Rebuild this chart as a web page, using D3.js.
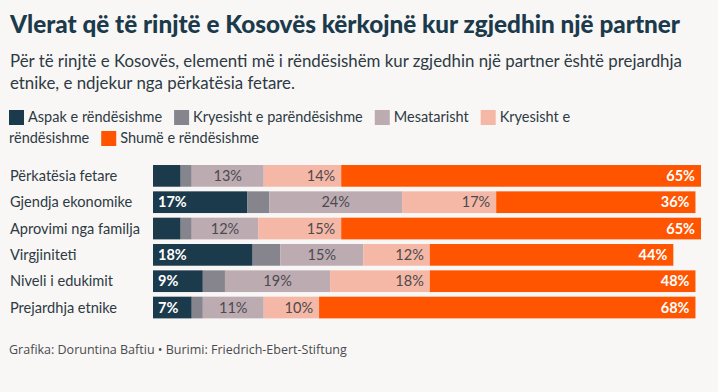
<!DOCTYPE html>
<html><head><meta charset="utf-8">
<script src="https://cdn.jsdelivr.net/npm/d3@7"></script>
<style>html,body{margin:0;padding:0;background:#f8f7f5}svg{display:block}</style>
</head><body><svg id="c" width="718" height="392"></svg>
<script>
const categories = ["Përkatësia fetare","Gjendja ekonomike","Aprovimi nga familja","Virgjiniteti","Niveli i edukimit","Prejardhja etnike"];
const seriesNames = ["Aspak e rëndësishme","Kryesisht e parëndësishme","Mesatarisht","Kryesisht e rëndësishme","Shumë e rëndësishme"];
const aspak = [5,17,5,18,9,7];
const parendesishme = [2,4,2,5,4,2];
const mesatarisht = [13,24,12,15,19,11];
const kryesisht = [14,17,15,12,18,10];
const shume = [65,36,65,44,48,68];
const titleText = "Vlerat që të rinjtë e Kosovës kërkojnë kur zgjedhin një partner";
const subtitleLines = ["Për të rinjtë e Kosovës, elementi më i rëndësishëm kur zgjedhin një partner është prejardhja","etnike, e ndjekur nga përkatësia fetare."];
const footerText = "Grafika: Doruntina Baftiu • Burimi: Friedrich-Ebert-Stiftung";

const colors = ["#1b3a4b","#86858d","#bdabb2","#f5b7a6","#ff5500"];
const FONT = "Lato, 'Noto Sans', sans-serif";
const svg = d3.select("#c");
svg.append("rect").attr("width",718).attr("height",392).attr("fill","#f8f7f5");

function fit(sel, target){
  const w = sel.node().getComputedTextLength();
  const fs = parseFloat(sel.attr("font-size"));
  sel.attr("font-size", (fs*target/w).toFixed(2));
}

// title
const t = svg.append("text").attr("x",10).attr("y",33).attr("font-family",FONT).attr("font-weight",900)
  .attr("font-size",22).attr("fill","#1b3a4b").text(titleText);
fit(t, 670);
const subSizes = [];
subtitleLines.forEach((l,i)=>{
  const s = svg.append("text").attr("x",10).attr("y",66.5+i*22.5).attr("font-family",FONT)
    .attr("font-size",17).attr("fill","#2e3a44").text(l);
  if(i===0){ fit(s,672); subSizes.push(+s.attr("font-size")); }
  else s.attr("font-size", subSizes[0]);
});

// legend (word flow)
const legG = svg.append("g");
const legFS = 14.5;
const meas = legG.append("text").attr("font-family",FONT).attr("font-size",legFS);
function tw(s){ meas.text(s); return meas.node().getComputedTextLength(); }
let lx = 9, ly = 121.5; const maxX = 610, lineH = 21;
seriesNames.forEach((name,i)=>{
  const words = name.split(" ");
  if(lx + 19 + tw(words[0]) > maxX){ lx = 9; ly += lineH; }
  legG.append("rect").attr("x",lx).attr("y",ly-11.5).attr("width",15).attr("height",15).attr("fill",colors[i]);
  lx += 19;
  let line = words[0];
  let startX = lx;
  for(let k=1;k<words.length;k++){
    const cand = line + " " + words[k];
    if(startX + tw(cand) > maxX){
      legG.append("text").attr("x",startX).attr("y",ly).attr("font-family",FONT).attr("font-size",legFS).attr("fill","#2e3a44").text(line);
      ly += lineH; startX = 9; line = words[k];
    } else line = cand;
  }
  legG.append("text").attr("x",startX).attr("y",ly).attr("font-family",FONT).attr("font-size",legFS).attr("fill","#2e3a44").text(line);
  lx = startX + tw(line) + 12;
});
meas.remove();

// chart
const rows = categories.map((c,i)=>({cat:c, v:[aspak[i],parendesishme[i],mesatarisht[i],kryesisht[i],shume[i]]}));
const maxTotal = d3.max(rows, r=>d3.sum(r.v));
const x = d3.scaleLinear().domain([0,maxTotal]).range([153,701]);
const y = d3.scaleBand().domain(categories).range([162.7,320.7]).paddingInner(0.176).paddingOuter(0.088);

const catG = svg.append("g");
const catLabels = categories.map(c=>catG.append("text").attr("x",10).attr("y",y(c)+y.bandwidth()/2).attr("dy","0.36em")
    .attr("font-family",FONT).attr("font-size",15).attr("fill","#2e3a44").text(c));
const widest = d3.max(catLabels, s=>s.node().getComputedTextLength());
const catFS = (15*130/widest).toFixed(2);
catLabels.forEach(s=>s.attr("font-size",catFS));

rows.forEach(r=>{
  let acc = 0;
  r.v.forEach((v,j)=>{
    const x0 = x(acc), x1 = x(acc+v);
    svg.append("rect").attr("x",x0).attr("y",y(r.cat)).attr("width",x1-x0).attr("height",y.bandwidth()).attr("fill",colors[j]);
    acc += v;
    if(j===1 || v<6) return;
    const lbl = svg.append("text").attr("y",y(r.cat)+y.bandwidth()/2).attr("dy","0.36em")
      .attr("font-family",FONT).attr("font-size",14.5).text(v+"%");
    if(j===0) lbl.attr("x",x0+5).attr("fill","#fff").attr("font-weight",700);
    else if(j===2) lbl.attr("x",(x0+x1)/2).attr("text-anchor","middle").attr("fill","#4a4a4f");
    else if(j===3) lbl.attr("x",x1-6).attr("text-anchor","end").attr("fill","#4a4a4f");
    else lbl.attr("x",x1-6).attr("text-anchor","end").attr("fill","#fff").attr("font-weight",700);
  });
});

svg.append("text").attr("x",9).attr("y",354).attr("font-family","'Open Sans', sans-serif").attr("font-size",12.5)
  .attr("fill","#4a4a4f").text(footerText);
</script></body></html>
